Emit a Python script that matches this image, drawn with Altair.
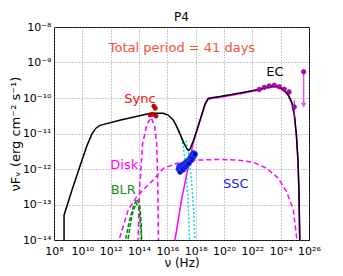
import altair as alt
import pandas as pd

# ---- data (log10 nu, log10 nuFnu) ----
tot_x = [8.71, 8.71, 9.27, 9.83, 10.35, 10.68, 10.96, 11.25, 12.71, 14.82, 15.71, 16.05, 16.42, 16.68, 16.89,
         17.17, 17.39, 17.49, 17.6, 17.83, 18.09, 18.42, 18.66, 18.87, 19.0, 19.71, 21.13, 22.54, 23.25, 23.6,
         23.95, 24.3, 24.58, 24.8, 24.97, 25.11, 25.22, 25.29, 25.36]
tot_y = [-14.3, -13.3, -12.59, -11.92, -11.32, -11.01, -10.85, -10.77, -10.62, -10.43, -10.43, -10.48, -10.62,
         -10.82, -11.01, -11.27, -11.44, -11.48, -11.44, -11.21, -10.9, -10.48, -10.17, -10.02, -10.0, -9.96,
         -9.86, -9.75, -9.68, -9.66, -9.7, -9.8, -9.94, -10.14, -10.48, -11.04, -11.75, -12.59, -14.3]

ec_x = [16.42, 17.0, 17.5, 17.8, 18.1, 18.42, 18.66, 18.87, 19.0, 19.71, 21.13, 22.54, 23.25, 23.6, 23.95,
        24.3, 24.58, 24.8, 24.97, 25.11, 25.22, 25.29, 25.36]
ec_y = [-14.3, -12.87, -11.9, -11.3, -10.9, -10.5, -10.19, -10.04, -10.02, -9.98, -9.88, -9.77, -9.7, -9.68,
        -9.72, -9.82, -9.96, -10.16, -10.5, -11.06, -11.77, -12.61, -14.3]

syn1_x = [16.4, 16.7, 16.9, 17.1, 17.3, 17.45, 17.6]
syn1_y = [-10.62, -10.82, -11.0, -11.3, -11.9, -12.8, -14.3]
syn2_x = [17.3, 17.48, 17.7, 17.85, 17.97]
syn2_y = [-11.2, -11.5, -12.3, -13.1, -14.3]

ssc_x = [11.95, 12.66, 13.24, 13.84, 14.3, 15.0, 15.72, 16.66, 18.07, 19.71, 21.0, 22.07, 23.01, 23.83, 24.42,
         24.89, 25.24]
ssc_y = [-14.3, -13.91, -13.15, -12.78, -12.59, -12.31, -11.98, -11.84, -11.75, -11.73, -11.75, -11.81, -11.98,
         -12.26, -12.64, -13.15, -14.3]

disk_x = [13.9, 14.05, 14.25, 14.55, 14.85, 15.1, 15.25, 15.32, 15.38]
disk_y = [-14.3, -12.5, -11.3, -10.75, -10.55, -10.78, -11.3, -12.3, -14.3]

blr1_x = [12.9, 13.3, 13.6, 13.85, 14.05, 14.15, 14.22]
blr1_y = [-14.3, -13.5, -13.05, -12.85, -13.0, -13.5, -14.3]
blr2_x = [13.1, 13.5, 13.8, 14.0, 14.12, 14.2]
blr2_y = [-14.3, -13.3, -12.95, -13.1, -13.6, -14.3]

sync_px = [14.78, 14.97, 15.2, 15.05, 15.15]
sync_py = [-10.48, -10.46, -10.51, -10.23, -10.29]

xr_x = [16.8, 16.85, 16.9, 16.95, 17.0, 17.05, 17.1, 17.15, 17.2, 17.25, 17.3, 17.35, 17.4, 17.45, 17.5,
        17.55, 17.6, 17.65, 17.7, 17.75, 17.8, 17.85, 17.9, 17.95]
xr_y = [-12.0, -11.92, -12.08, -11.95, -11.98, -11.88, -12.02, -11.9, -11.85, -11.95, -11.82, -11.9, -11.78,
        -11.86, -11.75, -11.82, -11.72, -11.66, -11.75, -11.6, -11.68, -11.55, -11.62, -11.58]

gam_x = [22.49, 22.84, 23.19, 23.55, 23.9, 24.25, 24.6, 24.96]
gam_y = [-9.76, -9.70, -9.66, -9.64, -9.68, -9.75, -9.83, -10.25]
gam_lo = [-9.81, -9.74, -9.70, -9.68, -9.72, -9.80, -9.90, -10.54]
gam_hi = [-9.71, -9.66, -9.62, -9.60, -9.64, -9.70, -9.76, -10.06]

ul_x = [25.62]
ul_top = [-9.26]
ul_end = [-10.2]

x_ticks = [8, 10, 12, 14, 16, 18, 20, 22, 24, 26]
y_ticks = [-14, -13, -12, -11, -10, -9, -8]

labels = [
    ("Total period = 41 days", 17.03, -8.59, "#f0503c", 13),
    ("Sync", 14.07, -10.03, "#ee1111", 13),
    ("EC", 23.6, -9.26, "black", 13),
    ("Disk", 12.96, -11.88, "#ff00ff", 13),
    ("BLR", 12.89, -12.59, "#1a8f1a", 13),
    ("SSC", 20.83, -12.42, "#1a1aee", 13),
]
title_text = "P4"

SUP = str.maketrans("-0123456789", "⁻⁰¹²³⁴⁵⁶⁷⁸⁹")


def label_expr(vals):
    expr = "''"
    for v in reversed(vals):
        expr = f"datum.value == {v} ? '10{str(v).translate(SUP)}' : ({expr})"
    return expr


W, H = 255, 213
xs = alt.Scale(domain=[8, 26], nice=False, zero=False)
ys = alt.Scale(domain=[-14, -8], nice=False, zero=False)
FONT = "DejaVu Sans"

X_AXIS = alt.Axis(values=x_ticks, labelExpr=label_expr(x_ticks), title="ν (Hz)",
                  grid=True, ticks=False, labelPadding=5, titlePadding=1, titleFontSize=12,
                  labelOverlap=False, labelFlush=False)
Y_AXIS = alt.Axis(values=y_ticks, labelExpr=label_expr(y_ticks),
                  title="νFᵥ (erg cm⁻² s⁻¹)", grid=True, ticks=False,
                  labelPadding=3, labelOverlap=False, labelFlush=False,
                  titleX=-39, titleY=H / 2, titleAngle=270,
                  titleBaseline="middle", titleAlign="center")


def X(field):
    return alt.X(field, scale=xs, axis=X_AXIS)


def Y(field):
    return alt.Y(field, scale=ys, axis=Y_AXIS)


def curve(xv, yv, color, dash=None, width=1.5):
    df = pd.DataFrame({"x": xv, "y": yv, "o": range(len(xv))})
    kw = dict(color=color, strokeWidth=width, clip=True)
    if dash:
        kw["strokeDash"] = dash
    return alt.Chart(df).mark_line(**kw).encode(x=X("x:Q"), y=Y("y:Q"), order="o:Q")


layers = [curve(ssc_x, ssc_y, "#ff00ff", [5, 3]),
          curve(disk_x, disk_y, "#ff00ff", [5, 3]),
          curve(blr1_x, blr1_y, "#008800", [4, 2]),
          curve(blr2_x, blr2_y, "#008800", [4, 2]),
          curve(syn1_x, syn1_y, "#00dddd", [2, 2]),
          curve(syn2_x, syn2_y, "#00dddd", [2, 2]),
          curve(ec_x, ec_y, "#ff00ff", None, 1.5),
          curve(tot_x, tot_y, "black", None, 1.5)]

xr = pd.DataFrame({"x": xr_x, "y": xr_y})
layers.append(alt.Chart(xr).mark_point(filled=True, size=28, color="#0000bb", stroke="#3355ff",
                                       strokeWidth=0.8, opacity=1).encode(x=X("x:Q"), y=Y("y:Q")))

sp = pd.DataFrame({"x": sync_px, "y": sync_py})
layers.append(alt.Chart(sp).mark_point(filled=True, size=18, color="#dd0000", stroke="#880000",
                                       strokeWidth=0.6, opacity=1).encode(x=X("x:Q"), y=Y("y:Q")))

gp = pd.DataFrame({"x": gam_x, "y": gam_y, "lo": gam_lo, "hi": gam_hi})
layers.append(alt.Chart(gp).mark_rule(color="#cc00cc", strokeWidth=1).encode(
    x=X("x:Q"), y=Y("lo:Q"), y2="hi:Q"))
layers.append(alt.Chart(gp).mark_point(filled=True, size=20, color="#bb00bb", stroke="#660066",
                                       strokeWidth=0.6, opacity=1).encode(x=X("x:Q"), y=Y("y:Q")))

ul = pd.DataFrame({"x": ul_x, "y": ul_top, "y2": ul_end})
layers.append(alt.Chart(ul).mark_rule(color="#dd55dd", strokeWidth=1.5).encode(
    x=X("x:Q"), y=Y("y:Q"), y2="y2:Q"))
layers.append(alt.Chart(ul).mark_point(filled=True, size=20, color="#bb00bb", stroke="#660066",
                                       strokeWidth=0.6, opacity=1).encode(x=X("x:Q"), y=Y("y:Q")))
layers.append(alt.Chart(ul).mark_point(filled=True, shape="triangle-down", size=30, color="#dd55dd",
                                       opacity=1).encode(x=X("x:Q"), y=Y("y2:Q")))

for txt, lx, ly, col, fs in labels:
    layers.append(alt.Chart(pd.DataFrame({"x": [lx], "y": [ly], "t": [txt]})).mark_text(
        color=col, fontSize=fs, font=FONT, align="center", baseline="middle").encode(
        x=X("x:Q"), y=Y("y:Q"), text="t:N"))

layers.append(alt.Chart(pd.DataFrame({"t": [title_text]})).mark_text(
    color="black", fontSize=12, font=FONT, align="center", baseline="bottom").encode(
    x=alt.value(W / 2), y=alt.value(-3), text="t:N"))

chart = alt.layer(*layers).properties(
    width=W, height=H,
    autosize=alt.AutoSizeParams(type="none"),
    padding={"left": 46, "top": 19, "right": 26, "bottom": 32},
).configure_view(stroke="black", strokeWidth=1).configure_axis(
    labelFont=FONT, labelFontSize=11, labelColor="black", titleFont=FONT, titleFontSize=13,
    titleFontWeight="normal", titleColor="black", domain=False, gridColor="#777777", gridDash=[1, 2],
    gridWidth=0.8, gridOpacity=1, labelOverlap=False,
)

chart.save("out.html", embed_options={"renderer": "svg", "actions": False})
